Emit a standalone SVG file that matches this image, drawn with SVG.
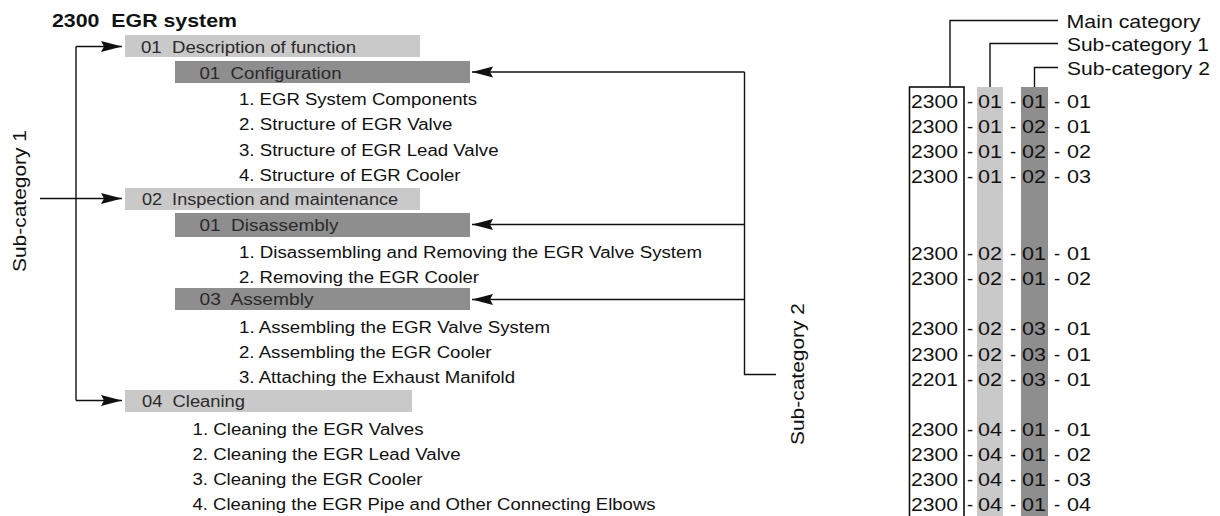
<svg xmlns="http://www.w3.org/2000/svg" width="1220" height="516" viewBox="0 0 1220 516">
<defs>
<style>
text{font-family:"Liberation Sans",Arial,Helvetica,sans-serif;fill:#111;}
.t{font-size:17.5px;font-weight:bold;white-space:pre;}
.lbl{font-size:16px;fill:#2a2a2a;white-space:pre;}
.it{font-size:16px;}
.big{font-size:18.5px;}
.cd{font-size:18.5px;}
.b1{fill:#c9c9c9;}
.b2{fill:#8e8e8e;}
.ln{fill:none;stroke:#111;stroke-width:1.4;}
.arr{marker-end:url(#ah);}
.box{fill:none;stroke:#111;stroke-width:1.6;}
</style>
<marker id="ah" markerUnits="userSpaceOnUse" markerWidth="21" markerHeight="12" refX="21" refY="6" orient="auto"><path d="M0,0.5 L21,6 L0,11.5 L3,6 Z" fill="#111"/></marker>
</defs>

<g id="title"><text class="t" x="52" y="27" textLength="185" lengthAdjust="spacingAndGlyphs" xml:space="preserve">2300  EGR system</text></g>

<g id="sc1-01">
<rect class="b1" x="125" y="35" width="295" height="22"/>
<text class="lbl" x="141" y="52.5" textLength="215" lengthAdjust="spacingAndGlyphs" xml:space="preserve">01  Description of function</text>
</g>
<g id="sc2-01-01">
<rect class="b2" x="175" y="61" width="295" height="22"/>
<text class="lbl" x="199.5" y="78.5" textLength="142" lengthAdjust="spacingAndGlyphs" xml:space="preserve">01  Configuration</text>
<text class="it" x="239" y="105" textLength="238" lengthAdjust="spacingAndGlyphs">1. EGR System Components</text>
<text class="it" x="239" y="130" textLength="213.5" lengthAdjust="spacingAndGlyphs">2. Structure of EGR Valve</text>
<text class="it" x="239" y="155.5" textLength="259.5" lengthAdjust="spacingAndGlyphs">3. Structure of EGR Lead Valve</text>
<text class="it" x="239" y="181" textLength="221.5" lengthAdjust="spacingAndGlyphs">4. Structure of EGR Cooler</text>
</g>

<g id="sc1-02">
<rect class="b1" x="125" y="188" width="295" height="22"/>
<text class="lbl" x="142" y="205" textLength="256" lengthAdjust="spacingAndGlyphs" xml:space="preserve">02  Inspection and maintenance</text>
</g>
<g id="sc2-02-01">
<rect class="b2" x="175" y="213" width="295" height="24"/>
<text class="lbl" x="199.5" y="230.5" textLength="139" lengthAdjust="spacingAndGlyphs" xml:space="preserve">01  Disassembly</text>
<text class="it" x="239" y="257.5" textLength="463" lengthAdjust="spacingAndGlyphs">1. Disassembling and Removing the EGR Valve System</text>
<text class="it" x="239" y="282.5" textLength="240" lengthAdjust="spacingAndGlyphs">2. Removing the EGR Cooler</text>
</g>
<g id="sc2-02-03">
<rect class="b2" x="175" y="288" width="295" height="22"/>
<text class="lbl" x="199.5" y="305" textLength="114" lengthAdjust="spacingAndGlyphs" xml:space="preserve">03  Assembly</text>
<text class="it" x="239" y="333" textLength="311" lengthAdjust="spacingAndGlyphs">1. Assembling the EGR Valve System</text>
<text class="it" x="239" y="358" textLength="252.5" lengthAdjust="spacingAndGlyphs">2. Assembling the EGR Cooler</text>
<text class="it" x="239" y="383" textLength="276" lengthAdjust="spacingAndGlyphs">3. Attaching the Exhaust Manifold</text>
</g>

<g id="sc1-04">
<rect class="b1" x="125" y="390" width="287" height="22"/>
<text class="lbl" x="142" y="407" textLength="103" lengthAdjust="spacingAndGlyphs" xml:space="preserve">04  Cleaning</text>
<text class="it" x="192.5" y="435" textLength="231" lengthAdjust="spacingAndGlyphs">1. Cleaning the EGR Valves</text>
<text class="it" x="192.5" y="460" textLength="268" lengthAdjust="spacingAndGlyphs">2. Cleaning the EGR Lead Valve</text>
<text class="it" x="192.5" y="485" textLength="230" lengthAdjust="spacingAndGlyphs">3. Cleaning the EGR Cooler</text>
<text class="it" x="192.5" y="510" textLength="463" lengthAdjust="spacingAndGlyphs">4. Cleaning the EGR Pipe and Other Connecting Elbows</text>
</g>

<g id="label-sub1"><text class="big" text-anchor="middle" transform="translate(25.5,201) rotate(-90)" textLength="142" lengthAdjust="spacingAndGlyphs">Sub-category 1</text></g>
<g id="label-sub2"><text class="big" text-anchor="middle" transform="translate(803.5,374) rotate(-90)" textLength="142" lengthAdjust="spacingAndGlyphs">Sub-category 2</text></g>

<g id="connectors">
<path class="ln" d="M76,46.5 V400.5"/>
<path class="ln arr" d="M76,46.5 H122"/>
<path class="ln arr" d="M40,198.5 H122"/>
<path class="ln arr" d="M76,400.5 H122"/>
<path class="ln" d="M744.5,72 V374.5 H776"/>
<path class="ln arr" d="M744.5,72 H472"/>
<path class="ln arr" d="M744.5,224.5 H472"/>
<path class="ln arr" d="M744.5,299.5 H472"/>
<path class="ln" d="M950,87 V20.5 H1058"/>
<path class="ln" d="M990,87 V43.5 H1058"/>
<path class="ln" d="M1034.5,87 V67.5 H1058"/>
</g>

<g id="legend">
<text class="big" x="1066.5" y="28" textLength="134" lengthAdjust="spacingAndGlyphs">Main category</text>
<text class="big" x="1067" y="51" textLength="142" lengthAdjust="spacingAndGlyphs">Sub-category 1</text>
<text class="big" x="1067" y="74.5" textLength="143" lengthAdjust="spacingAndGlyphs">Sub-category 2</text>
</g>

<g id="code-table">
<rect class="b1" x="977" y="87" width="26" height="440"/>
<rect class="b2" x="1021" y="87" width="27" height="440"/>
<rect class="box" x="909.5" y="87" width="54.5" height="440"/>
<text class="cd" y="108"><tspan x="911" textLength="47" lengthAdjust="spacingAndGlyphs">2300</tspan><tspan x="967">-</tspan><tspan x="978" textLength="24" lengthAdjust="spacingAndGlyphs">01</tspan><tspan x="1010">-</tspan><tspan x="1022" textLength="24" lengthAdjust="spacingAndGlyphs">01</tspan><tspan x="1054">-</tspan><tspan x="1067" textLength="24" lengthAdjust="spacingAndGlyphs">01</tspan></text>
<text class="cd" y="133"><tspan x="911" textLength="47" lengthAdjust="spacingAndGlyphs">2300</tspan><tspan x="967">-</tspan><tspan x="978" textLength="24" lengthAdjust="spacingAndGlyphs">01</tspan><tspan x="1010">-</tspan><tspan x="1022" textLength="24" lengthAdjust="spacingAndGlyphs">02</tspan><tspan x="1054">-</tspan><tspan x="1067" textLength="24" lengthAdjust="spacingAndGlyphs">01</tspan></text>
<text class="cd" y="158"><tspan x="911" textLength="47" lengthAdjust="spacingAndGlyphs">2300</tspan><tspan x="967">-</tspan><tspan x="978" textLength="24" lengthAdjust="spacingAndGlyphs">01</tspan><tspan x="1010">-</tspan><tspan x="1022" textLength="24" lengthAdjust="spacingAndGlyphs">02</tspan><tspan x="1054">-</tspan><tspan x="1067" textLength="24" lengthAdjust="spacingAndGlyphs">02</tspan></text>
<text class="cd" y="183"><tspan x="911" textLength="47" lengthAdjust="spacingAndGlyphs">2300</tspan><tspan x="967">-</tspan><tspan x="978" textLength="24" lengthAdjust="spacingAndGlyphs">01</tspan><tspan x="1010">-</tspan><tspan x="1022" textLength="24" lengthAdjust="spacingAndGlyphs">02</tspan><tspan x="1054">-</tspan><tspan x="1067" textLength="24" lengthAdjust="spacingAndGlyphs">03</tspan></text>
<text class="cd" y="260"><tspan x="911" textLength="47" lengthAdjust="spacingAndGlyphs">2300</tspan><tspan x="967">-</tspan><tspan x="978" textLength="24" lengthAdjust="spacingAndGlyphs">02</tspan><tspan x="1010">-</tspan><tspan x="1022" textLength="24" lengthAdjust="spacingAndGlyphs">01</tspan><tspan x="1054">-</tspan><tspan x="1067" textLength="24" lengthAdjust="spacingAndGlyphs">01</tspan></text>
<text class="cd" y="285"><tspan x="911" textLength="47" lengthAdjust="spacingAndGlyphs">2300</tspan><tspan x="967">-</tspan><tspan x="978" textLength="24" lengthAdjust="spacingAndGlyphs">02</tspan><tspan x="1010">-</tspan><tspan x="1022" textLength="24" lengthAdjust="spacingAndGlyphs">01</tspan><tspan x="1054">-</tspan><tspan x="1067" textLength="24" lengthAdjust="spacingAndGlyphs">02</tspan></text>
<text class="cd" y="335"><tspan x="911" textLength="47" lengthAdjust="spacingAndGlyphs">2300</tspan><tspan x="967">-</tspan><tspan x="978" textLength="24" lengthAdjust="spacingAndGlyphs">02</tspan><tspan x="1010">-</tspan><tspan x="1022" textLength="24" lengthAdjust="spacingAndGlyphs">03</tspan><tspan x="1054">-</tspan><tspan x="1067" textLength="24" lengthAdjust="spacingAndGlyphs">01</tspan></text>
<text class="cd" y="360.5"><tspan x="911" textLength="47" lengthAdjust="spacingAndGlyphs">2300</tspan><tspan x="967">-</tspan><tspan x="978" textLength="24" lengthAdjust="spacingAndGlyphs">02</tspan><tspan x="1010">-</tspan><tspan x="1022" textLength="24" lengthAdjust="spacingAndGlyphs">03</tspan><tspan x="1054">-</tspan><tspan x="1067" textLength="24" lengthAdjust="spacingAndGlyphs">01</tspan></text>
<text class="cd" y="386"><tspan x="911" textLength="47" lengthAdjust="spacingAndGlyphs">2201</tspan><tspan x="967">-</tspan><tspan x="978" textLength="24" lengthAdjust="spacingAndGlyphs">02</tspan><tspan x="1010">-</tspan><tspan x="1022" textLength="24" lengthAdjust="spacingAndGlyphs">03</tspan><tspan x="1054">-</tspan><tspan x="1067" textLength="24" lengthAdjust="spacingAndGlyphs">01</tspan></text>
<text class="cd" y="436"><tspan x="911" textLength="47" lengthAdjust="spacingAndGlyphs">2300</tspan><tspan x="967">-</tspan><tspan x="978" textLength="24" lengthAdjust="spacingAndGlyphs">04</tspan><tspan x="1010">-</tspan><tspan x="1022" textLength="24" lengthAdjust="spacingAndGlyphs">01</tspan><tspan x="1054">-</tspan><tspan x="1067" textLength="24" lengthAdjust="spacingAndGlyphs">01</tspan></text>
<text class="cd" y="461"><tspan x="911" textLength="47" lengthAdjust="spacingAndGlyphs">2300</tspan><tspan x="967">-</tspan><tspan x="978" textLength="24" lengthAdjust="spacingAndGlyphs">04</tspan><tspan x="1010">-</tspan><tspan x="1022" textLength="24" lengthAdjust="spacingAndGlyphs">01</tspan><tspan x="1054">-</tspan><tspan x="1067" textLength="24" lengthAdjust="spacingAndGlyphs">02</tspan></text>
<text class="cd" y="486"><tspan x="911" textLength="47" lengthAdjust="spacingAndGlyphs">2300</tspan><tspan x="967">-</tspan><tspan x="978" textLength="24" lengthAdjust="spacingAndGlyphs">04</tspan><tspan x="1010">-</tspan><tspan x="1022" textLength="24" lengthAdjust="spacingAndGlyphs">01</tspan><tspan x="1054">-</tspan><tspan x="1067" textLength="24" lengthAdjust="spacingAndGlyphs">03</tspan></text>
<text class="cd" y="511"><tspan x="911" textLength="47" lengthAdjust="spacingAndGlyphs">2300</tspan><tspan x="967">-</tspan><tspan x="978" textLength="24" lengthAdjust="spacingAndGlyphs">04</tspan><tspan x="1010">-</tspan><tspan x="1022" textLength="24" lengthAdjust="spacingAndGlyphs">01</tspan><tspan x="1054">-</tspan><tspan x="1067" textLength="24" lengthAdjust="spacingAndGlyphs">04</tspan></text>
</g>
</svg>
